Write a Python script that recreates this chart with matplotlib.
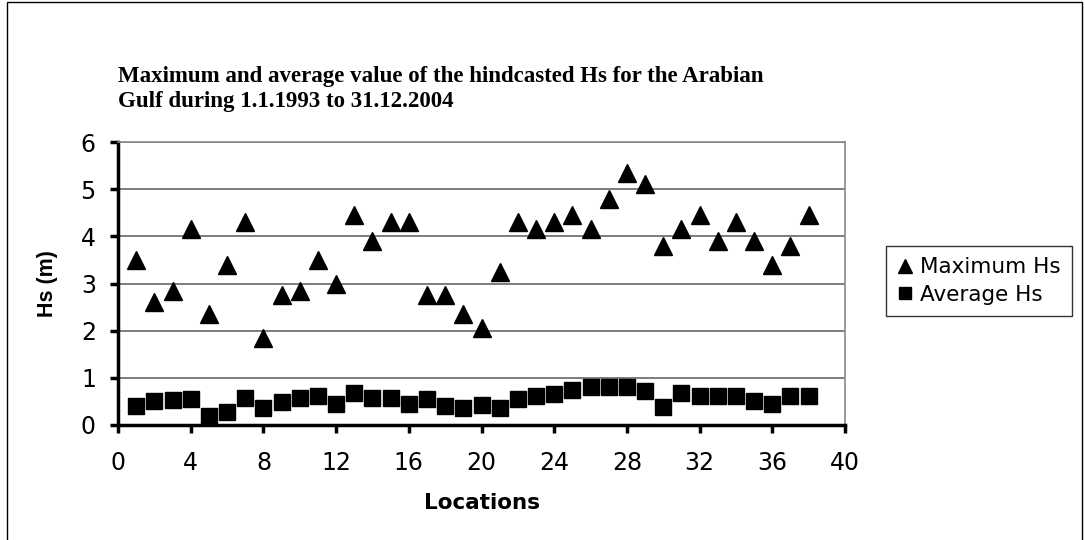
import matplotlib
matplotlib.use("Agg")
import matplotlib.pyplot as plt
from matplotlib.patches import Rectangle

locations = list(range(1, 39))
max_hs = [3.5, 2.6, 2.85, 4.15, 2.35, 3.4, 4.3, 1.85, 2.75, 2.85,
          3.5, 3.0, 4.45, 3.9, 4.3, 4.3, 2.75, 2.75, 2.35, 2.05,
          3.25, 4.3, 4.15, 4.3, 4.45, 4.15, 4.8, 5.35, 5.1, 3.8,
          4.15, 4.45, 3.9, 4.3, 3.9, 3.4, 3.8, 4.45]
avg_hs = [0.4, 0.5, 0.52, 0.55, 0.2, 0.28, 0.57, 0.35, 0.48, 0.57,
          0.62, 0.45, 0.68, 0.58, 0.58, 0.45, 0.55, 0.4, 0.35, 0.42,
          0.36, 0.55, 0.62, 0.65, 0.75, 0.8, 0.8, 0.8, 0.72, 0.38,
          0.68, 0.62, 0.62, 0.62, 0.5, 0.45, 0.62, 0.62]
x_ticks = [0, 4, 8, 12, 16, 20, 24, 28, 32, 36, 40]
y_ticks = [0, 1, 2, 3, 4, 5, 6]

fig = plt.figure(figsize=(10.85, 5.4), dpi=100)
fig.patches.append(Rectangle((7 / 1085, -0.02), 1075 / 1085, 1.02 - 2 / 540,
                             transform=fig.transFigure,
                             fill=False, edgecolor='black', linewidth=1.0))
ax = fig.add_axes([0.1088, 0.213, 0.670, 0.524])

ax.plot(locations, max_hs, linestyle='none', marker='^', markersize=13,
        color='black', label='Maximum Hs', clip_on=False)
ax.plot(locations, avg_hs, linestyle='none', marker='s', markersize=11,
        color='black', label='Average Hs', clip_on=False)

ax.set_xlim(0, 40)
ax.set_ylim(0, 6)
ax.set_xticks(x_ticks)
ax.set_yticks(y_ticks)
ax.yaxis.grid(True, color='#666666', linewidth=1.2)
ax.set_axisbelow(True)
for s in ['top', 'right']:
    ax.spines[s].set_color('#888888')
    ax.spines[s].set_linewidth(1.2)
for s in ['left', 'bottom']:
    ax.spines[s].set_color('black')
    ax.spines[s].set_linewidth(2.5)
ax.tick_params(axis='both', direction='out', length=6, width=2.5, labelsize=17)
ax.tick_params(axis='x', pad=13)
ax.tick_params(axis='y', pad=10)
for lbl in ax.get_xticklabels() + ax.get_yticklabels():
    lbl.set_family('DejaVu Sans')

ax.set_xlabel('Locations', fontsize=15.5, fontweight='bold', family='DejaVu Sans', labelpad=13)
ax.set_ylabel('Hs (m)', fontsize=15.5, fontweight='bold', family='Liberation Sans', labelpad=16)

fig.text(118 / 1085, 1 - 66 / 540,
         'Maximum and average value of the hindcasted Hs for the Arabian\nGulf during 1.1.1993 to 31.12.2004',
         fontsize=16.5, fontweight='bold', family='Liberation Serif', ha='left', va='top',
         linespacing=1.25)

leg = fig.legend(loc='center left', bbox_to_anchor=(886 / 1085, 1 - 281 / 540),
                 frameon=True, fancybox=False, edgecolor='black',
                 handlelength=0.8, handletextpad=0.3, borderpad=0.5, labelspacing=0.35,
                 borderaxespad=0, markerscale=0.75,
                 prop={'family': 'DejaVu Sans', 'size': 15.5})
leg.get_frame().set_linewidth(1.0)

fig.savefig('out.png', dpi=100)
